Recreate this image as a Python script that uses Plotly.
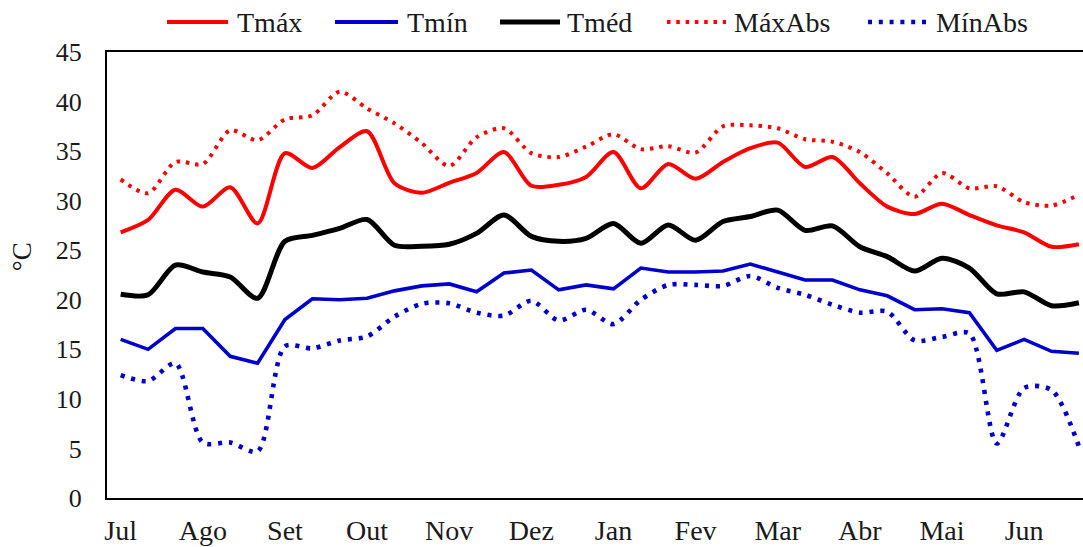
import plotly.graph_objects as go

months = ["Jul", "Ago", "Set", "Out", "Nov", "Dez", "Jan", "Fev", "Mar", "Abr", "Mai", "Jun"]
periods = list(range(36))  # three 10-day periods per month

tmax = [26.8, 28.05, 31.1, 29.4, 31.35, 27.7, 34.8, 33.3, 35.4, 37.0, 31.75, 30.8,
        31.8, 32.8, 34.9, 31.5, 31.6, 32.4, 34.9, 31.25, 33.7, 32.2, 33.9, 35.3,
        35.85, 33.4, 34.4, 31.75, 29.4, 28.65, 29.7, 28.55, 27.5, 26.8, 25.35, 25.6]
tmin = [16.0, 15.0, 17.1, 17.1, 14.3, 13.6, 18.0, 20.1, 20.0, 20.15, 20.9, 21.4,
        21.6, 20.8, 22.7, 23.0, 21.0, 21.5, 21.1, 23.2, 22.8, 22.8, 22.9, 23.6,
        22.8, 22.0, 22.0, 21.0, 20.4, 19.0, 19.1, 18.7, 14.9, 16.0, 14.8, 14.6]
tmed = [20.55, 20.5, 23.5, 22.8, 22.3, 20.15, 25.9, 26.5, 27.2, 28.1, 25.5, 25.4,
        25.6, 26.7, 28.55, 26.4, 25.9, 26.2, 27.7, 25.7, 27.55, 26.0, 27.9, 28.4,
        29.05, 27.0, 27.45, 25.35, 24.35, 22.9, 24.2, 23.2, 20.6, 20.8, 19.4, 19.7]
maxabs = [32.15, 30.75, 33.9, 33.7, 37.1, 36.1, 38.2, 38.6, 41.0, 39.3, 37.8, 35.8,
          33.5, 36.4, 37.3, 34.8, 34.4, 35.45, 36.7, 35.2, 35.5, 34.85, 37.5, 37.6,
          37.3, 36.2, 35.95, 34.9, 32.75, 30.4, 32.8, 31.25, 31.45, 29.85, 29.5, 30.6]
minabs = [12.4, 11.8, 13.6, 5.6, 5.6, 4.7, 15.3, 15.1, 15.9, 16.3, 18.3, 19.6,
          19.65, 18.7, 18.4, 19.9, 17.9, 19.0, 17.55, 20.0, 21.5, 21.5, 21.4, 22.4,
          21.2, 20.5, 19.5, 18.7, 18.8, 15.9, 16.25, 16.6, 5.5, 11.1, 10.9, 5.2]

yticks = [0, 5, 10, 15, 20, 25, 30, 35, 40, 45]

RED = "#FF0000"
BLUE = "#0000CC"
BLACK = "#000000"
FONT = "Times New Roman, Liberation Serif, serif"
TXT = "#1a1a1a"

series = [
    ("Tmáx", tmax, RED, 4, "solid", "spline"),
    ("Tmín", tmin, BLUE, 3.6, "solid", "linear"),
    ("Tméd", tmed, BLACK, 5, "solid", "spline"),
    ("MáxAbs", maxabs, RED, 4, "3.5px,5.8px", "spline"),
    ("MínAbs", minabs, BLUE, 4.6, "4px,6.8px", "spline"),
]

fig = go.Figure()
for name, vals, color, w, dash, shape in series:
    line = dict(color=color, width=w, dash=dash, shape=shape)
    if shape == "spline":
        line["smoothing"] = 0.8
    fig.add_trace(go.Scatter(x=periods, y=vals, mode="lines", name=name,
                             line=line, showlegend=False, hoverinfo="skip"))

WIDTH, HEIGHT = 1083, 547
L = 107.0            # plot left edge
T = 52.0             # plot top edge
H = 446.0            # plot height
W = WIDTH - L        # plot width (runs to the right edge, as in the reference)

def px(x):
    return (x - L) / W

legend_items = [
    ("Tmáx", RED, 4, "solid", 167, 228, 235),
    ("Tmín", BLUE, 4, "solid", 335, 398, 405),
    ("Tméd", BLACK, 5, "solid", 500, 560, 565),
    ("MáxAbs", RED, 4, "3.5px,5.8px", 667, 726, 732),
    ("MínAbs", BLUE, 4.6, "4px,6.8px", 868, 930, 934),
]
ly = 1 + 30 / H
for name, color, w, dash, x0, x1, tx in legend_items:
    fig.add_shape(type="line", xref="paper", yref="paper",
                  x0=px(x0), x1=px(x1), y0=ly, y1=ly,
                  line=dict(color=color, width=w, dash=dash))
    fig.add_annotation(text=name, xref="paper", yref="paper",
                       x=px(tx), y=ly, xanchor="left", yanchor="middle",
                       showarrow=False, font=dict(family=FONT, size=28, color=TXT))

fig.add_annotation(text="°C", xref="paper", yref="paper", x=px(22), y=0.54,
                   xanchor="center", yanchor="middle", textangle=-90, showarrow=False,
                   font=dict(family=FONT, size=27, color=TXT))

fig.update_layout(
    template="none",
    width=WIDTH, height=HEIGHT,
    margin=dict(l=L, r=0, t=T, b=HEIGHT - T - H, autoexpand=False),
    paper_bgcolor="white", plot_bgcolor="white",
    font=dict(family=FONT, size=26, color=TXT),
    showlegend=False,
    xaxis=dict(range=[-0.5, 35.15], tickmode="array", automargin=False,
               tickvals=[3 * i for i in range(12)], ticktext=months,
               showgrid=False, zeroline=False, showline=True, linecolor="black",
               linewidth=2, mirror=True, ticks="outside", ticklen=6,
               tickcolor="rgba(0,0,0,0)", tickfont=dict(family=FONT, size=28, color=TXT)),
    yaxis=dict(range=[0, 45], tickmode="array", tickvals=yticks, automargin=False,
               showgrid=False, zeroline=False, showline=True, linecolor="black",
               linewidth=2, mirror=False, ticks="outside", ticklen=18,
               tickcolor="rgba(0,0,0,0)", tickfont=dict(family=FONT, size=26, color=TXT)),
)

fig.write_html(
    "out.html",
    config={"displayModeBar": False},
    post_script=("document.documentElement.style.overflow='hidden';"
                 "document.body.style.overflow='hidden';"
                 "document.body.style.margin='0';"),
)
